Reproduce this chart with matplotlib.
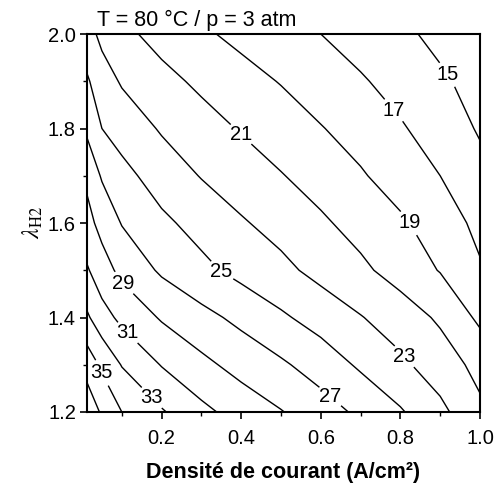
import numpy as np
import matplotlib
matplotlib.use("Agg")
import matplotlib.pyplot as plt
from matplotlib.ticker import MultipleLocator

plt.rcParams['font.family'] = ['Liberation Sans', 'DejaVu Sans']
plt.rcParams['mathtext.fontset'] = 'stix'

# grid of current density (A/cm2) and hydrogen stoichiometry
current = [0.0, 0.05, 0.1, 0.2, 0.3, 0.4, 0.5, 0.6, 0.7, 0.8, 0.9, 1.0]
lambda_h2 = [1.2, 1.3, 1.4, 1.5, 1.6, 1.7, 1.8, 1.9, 2.0]

# response surface, one row per lambda value
z_12 = [38.4, 36.8, 35.0, 33.2, 31.5, 30.2, 29.1, 27.9, 26.6, 25.2, 23.5, 21.4]
z_13 = [36.8, 34.6, 32.9, 30.9, 29.5, 28.3, 27.3, 26.1, 24.7, 23.4, 22.0, 20.4]
z_14 = [33.8, 31.8, 30.5, 28.8, 27.6, 26.5, 25.3, 24.2, 23.1, 22.0, 20.7, 18.6]
z_15 = [31.7, 29.8, 28.5, 26.7, 25.5, 24.4, 23.5, 22.4, 21.4, 20.2, 18.9, 17.2]
z_16 = [30.0, 28.4, 26.9, 25.4, 24.3, 23.2, 22.3, 21.3, 20.3, 19.3, 18.0, 16.5]
z_17 = [29.0, 26.8, 25.6, 24.1, 22.9, 22.0, 21.1, 20.2, 19.2, 18.1, 17.0, 15.6]
z_18 = [27.2, 25.0, 24.2, 22.8, 21.8, 20.85, 20.0, 19.1, 18.2, 17.2, 16.1, 14.8]
z_19 = [25.7, 23.9, 22.8, 21.6, 20.6, 19.7, 18.9, 18.0, 17.2, 16.3, 15.3, 14.3]
z_20 = [24.2, 22.5, 21.5, 20.3, 19.3, 18.5, 17.7, 17.0, 16.2, 15.4, 14.5, 13.7]

levels = [15, 17, 19, 21, 23, 25, 27, 29, 31, 33, 35, 37]

# where each level gets its number
label_pos = [(0.92, 1.915), (0.7925, 1.845), (0.83, 1.605), (0.3975, 1.786),
             (0.815, 1.321), (0.3475, 1.495), (0.625, 1.234), (0.0975, 1.467),
             (0.1125, 1.366), (0.1725, 1.228), (0.045, 1.281)]

Z = np.array([z_12, z_13, z_14, z_15, z_16, z_17, z_18, z_19, z_20])
X, Y = np.meshgrid(current, lambda_h2)

fig = plt.figure(figsize=(4.96, 4.83), dpi=100)
ax = fig.add_axes([0.1754, 0.147, 0.7923, 0.7826])

cs = ax.contour(X, Y, Z, levels=levels, colors='black', linewidths=1.0)
labels = ax.clabel(cs, fmt='%d', fontsize=14.5, inline=True,
                   inline_spacing=3, manual=label_pos)
for t in labels:
    t.set_rotation(0)

ax.set_xlim(0.0125, 1.0)
ax.set_ylim(1.2, 2.0)
ax.xaxis.set_major_locator(MultipleLocator(0.2))
ax.xaxis.set_minor_locator(MultipleLocator(0.1))
ax.yaxis.set_major_locator(MultipleLocator(0.2))
ax.yaxis.set_minor_locator(MultipleLocator(0.1))
ax.tick_params(which='major', direction='out', length=5, width=1.2,
               labelsize=14.5, top=False, right=False)
ax.tick_params(which='minor', direction='out', length=3, width=1.0,
               top=False, right=False)
ax.tick_params(axis='x', which='major', pad=7)
ax.tick_params(axis='y', which='major', pad=3)
for s in ax.spines.values():
    s.set_linewidth(1.5)

ax.set_xlabel('Densité de courant (A/cm²)', fontsize=15.5, fontweight='bold',
              labelpad=10)
ax.set_ylabel(r'$\lambda_{\mathrm{H2}}$', fontsize=17, labelpad=2)
ax.text(0.025, 1.008, 'T = 80 °C / p = 3 atm', transform=ax.transAxes,
        fontsize=15.5, ha='left', va='bottom')

fig.savefig('out.png', dpi=100)
